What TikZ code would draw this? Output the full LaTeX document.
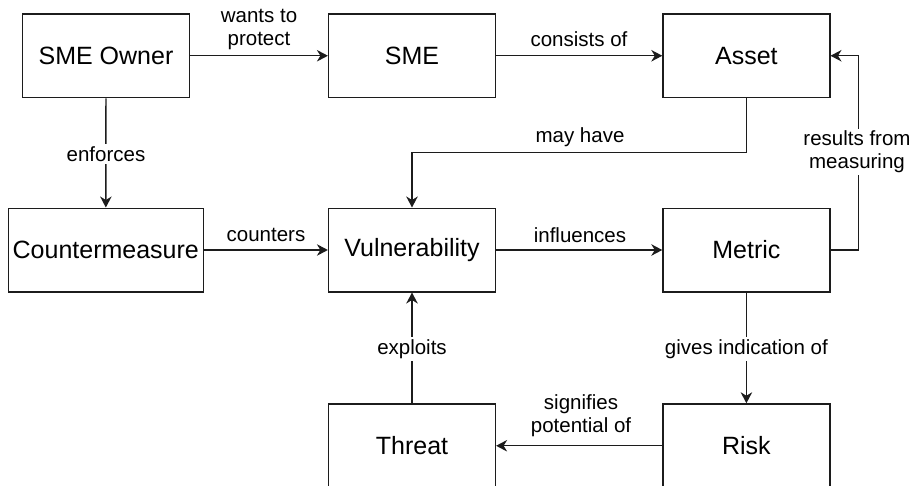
\documentclass[tikz,border=0pt]{standalone}
\usepackage{fontspec}
\setmainfont{Liberation Sans}
\usetikzlibrary{arrows.meta}
\definecolor{ink}{HTML}{1c1c1c}
\tikzset{
  entity/.style={draw=ink, line width=1.5pt, minimum width=166.7pt, minimum height=83.5pt,
    inner sep=0pt, font=\fontsize{25}{28}\selectfont, text=black},
  rel/.style={draw=ink, line width=1.4pt, -{Stealth[length=11pt,width=11.5pt,inset=3.5pt]}},
  lbl/.style={font=\fontsize{20.5}{23}\selectfont, text=black, align=center, inner sep=1pt},
  gap/.style={lbl, fill=white, inner sep=2pt}
}
\begin{document}
\begin{tikzpicture}[x=1pt, y=-1pt]
\useasboundingbox (0,0) rectangle (921,485);
% entities
\node[entity] (owner) at (106,55.75) {SME Owner};
\node[entity] (sme) at (412,55.75) {SME};
\node[entity] (asset) at (746.4,55.75) {Asset};
\node[entity, minimum width=195pt] (counter) at (105.8,250) {Countermeasure};
\node[entity] (vuln) at (412,250) {Vulnerability};
\node[entity] (metric) at (746.4,250) {Metric};
\node[entity] (threat) at (412,445.75) {Threat};
\node[entity] (risk) at (746.4,445.75) {Risk};
% bend points
\coordinate (mayturn) at (746.4,152.7);
\coordinate (resturn) at (858.3,250);
% relations
\draw[rel] (owner) -- (sme);
\node[lbl] (l1) at (259,29.5) {wants to\\protect};
\draw[rel] (sme) -- (asset);
\node[lbl] (l2) at (579,39) {consists of};
\draw[rel] (owner) -- (counter);
\node[gap] (l3) at (106,154) {enforces};
\draw[rel] (counter) -- (vuln);
\node[lbl] (l4) at (266,235) {counters};
\draw[rel] (vuln) -- (metric);
\node[lbl] (l5) at (580,235) {influences};
\draw[rel] (asset.south) -- (mayturn) -| (vuln.north);
\node[lbl] (l6) at (580,137) {may have};
\draw[rel] (metric.east) -- (resturn) |- (asset.east);
\node[gap] (l7) at (857,152) {results from\\measuring};
\draw[rel] (threat) -- (vuln);
\node[gap] (l8) at (412,349) {exploits};
\draw[rel] (metric) -- (risk);
\node[gap] (l9) at (746.4,349) {gives indication of};
\draw[rel] (risk) -- (threat);
\node[lbl] (l10) at (581,416) {signifies\\potential of};
\end{tikzpicture}
\end{document}
